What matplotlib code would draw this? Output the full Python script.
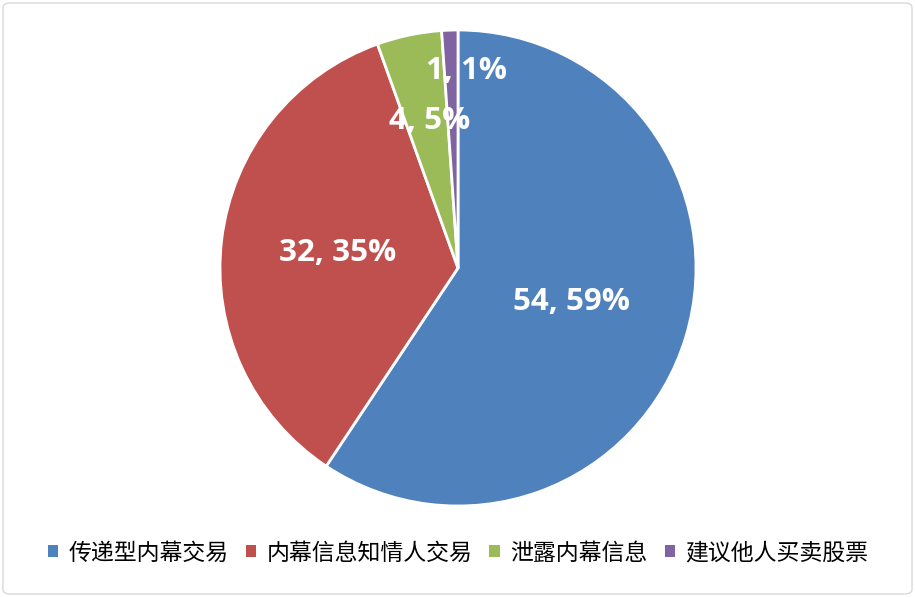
import numpy as np
import matplotlib.pyplot as plt
from matplotlib.patches import FancyBboxPatch, Patch

plt.rcParams['font.family'] = ['Noto Sans CJK SC', 'DejaVu Sans']

categories = ['传递型内幕交易', '内幕信息知情人交易', '泄露内幕信息', '建议他人买卖股票']
values = [54, 32, 4, 1]
labels = ['54, 59%', '32, 35%', '4, 5%', '1, 1%']
colors = ['#4F81BD', '#C0504D', '#9BBB59', '#8064A2']
label_dist = [0.5, 0.51, 0.63, 0.83]
label_shift = [0, 0, 1.0, 4.5]  # degrees

fig = plt.figure(figsize=(9.15, 5.97), dpi=100)
ax = fig.add_axes([220 / 915, 91 / 597, 476 / 915, 476 / 597])

wedges, _ = ax.pie(values, colors=colors, startangle=90, counterclock=False,
                   radius=1, wedgeprops=dict(edgecolor='white', linewidth=2))
ax.set_xlim(-1.0, 1.0)
ax.set_ylim(-1.0, 1.0)
ax.set_aspect('equal')
ax.axis('off')

for w, lab, d, s in zip(wedges, labels, label_dist, label_shift):
    ang = np.deg2rad((w.theta1 + w.theta2) / 2 - s)
    ax.text(d * np.cos(ang), d * np.sin(ang), lab, ha='center', va='center',
            color='white', fontsize=22.5, fontweight='bold', family=['Open Sans', 'DejaVu Sans'])

handles = [Patch(facecolor=c, edgecolor='none') for c in colors]
fig.legend(handles, categories, loc='center', bbox_to_anchor=(458 / 915, 1 - 553 / 597),
           ncol=4, frameon=False, fontsize=16.5, handlelength=0.45, handleheight=0.45,
           handletextpad=0.45, columnspacing=0.75)

border = FancyBboxPatch((3 / 915, 3 / 597), 909 / 915, 591 / 597, transform=fig.transFigure,
                        boxstyle='round,pad=0,rounding_size=0.008', fill=False,
                        edgecolor='#D9D9D9', linewidth=1)
fig.patches.append(border)

fig.savefig('out.png', dpi=100)
